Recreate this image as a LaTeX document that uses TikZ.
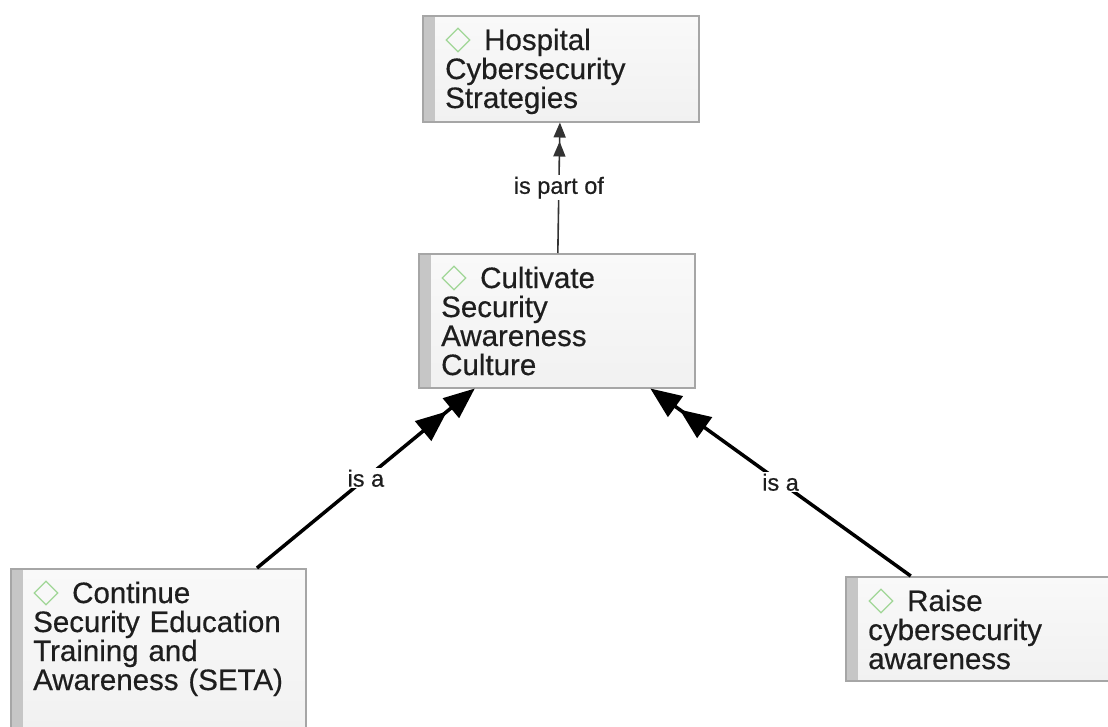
\documentclass[tikz,border=0pt]{standalone}
\usepackage{fontspec}
\setmainfont{Liberation Sans}[FakeBold=0.5]
\usetikzlibrary{arrows.meta,shapes.geometric}

\definecolor{boxborder}{HTML}{A6A6A6}
\definecolor{boxbar}{HTML}{C6C6C6}
\definecolor{boxtop}{HTML}{F9F9F9}
\definecolor{boxbottom}{HTML}{F1F1F1}
\definecolor{diamondgreen}{RGB}{160,214,150}
\definecolor{textdark}{HTML}{1E1E1E}
\definecolor{partline}{HTML}{333333}

\tikzset{
  concept/.style={draw=boxborder, line width=1.5pt, top color=boxtop, bottom color=boxbottom,
    inner sep=0pt, anchor=north west,
    path picture={\fill[boxbar] (path picture bounding box.north west)
      rectangle ([xshift=12pt]path picture bounding box.south west);}},
  concepttext/.style={font=\fontsize{29.5pt}{29pt}\selectfont, text=textdark, text width=285pt,
    align=left, inner sep=0pt, anchor=base west},
  conceptmark/.style={diamond, draw=diamondgreen, line width=1.3pt, inner sep=0pt,
    minimum width=24pt, minimum height=24pt},
  isalink/.style={draw=black, line width=3.5pt,
    -{Triangle[length=31pt,width=25pt,sep=5pt]Triangle[length=31pt,width=25pt]}},
  partlink/.style={draw=partline, line width=1.6pt,
    -{Triangle[length=15pt,width=12pt,sep=4pt]Triangle[length=15pt,width=12pt]}},
  linklabel/.style={fill=white, inner sep=1.5pt, text=textdark,
    font=\fontsize{23.5pt}{23.5pt}\selectfont}
}

\begin{document}
\begin{tikzpicture}[x=1pt, y=-1pt]
  \clip (0,0) rectangle (1108,726);
  \fill[white] (0,0) rectangle (1108,726);

  % concept boxes
  \node[concept, minimum width=276pt, minimum height=106pt] (hosp) at (422,15) {};
  \node[concept, minimum width=276pt, minimum height=134pt] (cult) at (418,253) {};
  \node[concept, minimum width=295pt, minimum height=162pt] (seta) at (10,568) {};
  \node[concept, minimum width=276pt, minimum height=104pt] (raise) at (845,576) {};

  % concept names (first line leaves room for the diamond mark)
  \node[concepttext] (hospT) at ([xshift=23pt,yshift=-35pt]hosp.north west)
    {\hspace*{39pt}Hospital\\Cybersecurity\\Strategies};
  \node[concepttext] (cultT) at ([xshift=23pt,yshift=-35pt]cult.north west)
    {\hspace*{39pt}Cultivate\\Security\\Awareness\\Culture};
  \node[concepttext] (setaT) at ([xshift=23pt,yshift=-35pt]seta.north west)
    {\hspace*{39pt}Continue\\Security Education\\Training and\\Awareness (SETA)};
  \node[concepttext] (raiseT) at ([xshift=23pt,yshift=-35pt]raise.north west)
    {\hspace*{39pt}Raise\\cybersecurity\\awareness};

  % diamond marks
  \node[conceptmark] (hospD) at ([xshift=13pt,yshift=10pt]hospT.base west) {};
  \node[conceptmark] (cultD) at ([xshift=13pt,yshift=10pt]cultT.base west) {};
  \node[conceptmark] (setaD) at ([xshift=13pt,yshift=10pt]setaT.base west) {};
  \node[conceptmark] (raiseD) at ([xshift=13pt,yshift=10pt]raiseT.base west) {};

  % relations
  \draw[partlink] (cult) -- node[linklabel] (lblPart) {is part of} (hosp);
  \draw[isalink] (seta) -- node[linklabel] (lblSeta) {is a} (cult);
  \draw[isalink] (raise) -- node[linklabel] (lblRaise) {is a} (cult);
\end{tikzpicture}
\end{document}
